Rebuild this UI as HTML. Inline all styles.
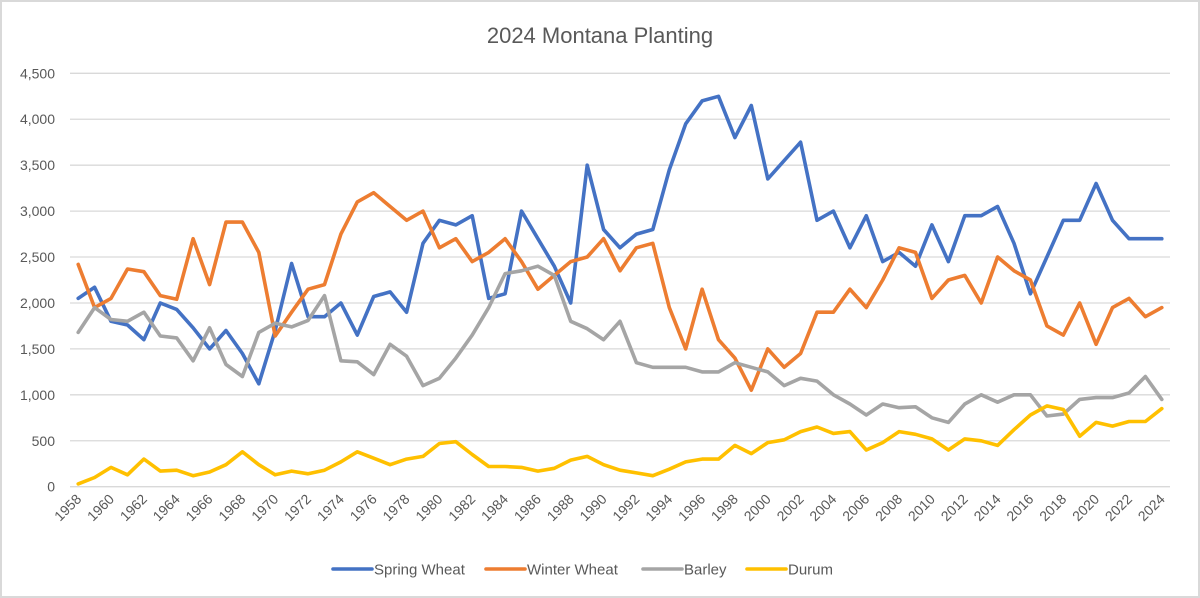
<!DOCTYPE html>
<html><head><meta charset="utf-8"><style>
body{margin:0;background:#fff;}
svg{display:block;font-family:"Liberation Sans",sans-serif;}
</style></head><body>
<svg id="chart" width="1200" height="598">
<rect x="1" y="1" width="1198" height="596" fill="#fff" stroke="#d9d9d9" stroke-width="2"/>
<text x="600" y="43" text-anchor="middle" font-size="22" fill="#595959">2024 Montana Planting</text>
<g id="grid"></g><g id="ylabels"></g><g id="xlabels"></g><g id="series"></g>
<g id="legend"></g>
</svg>
<script>
const years = [];
for (let y = 1958; y <= 2024; y++) years.push(y);
const yTicks = [0,500,1000,1500,2000,2500,3000,3500,4000,4500];
const springWheat = [2050,2170,1800,1760,1600,2000,1930,1730,1500,1700,1450,1120,1700,2430,1850,1850,2000,1650,2070,2120,1900,2650,2900,2850,2950,2050,2100,3000,2700,2400,2000,3500,2800,2600,2750,2800,3450,3950,4200,4250,3800,4150,3350,3550,3750,2900,3000,2600,2950,2450,2550,2400,2850,2450,2950,2950,3050,2650,2100,2500,2900,2900,3300,2900,2700,2700,2700];
const winterWheat = [2420,1950,2050,2370,2340,2080,2040,2700,2200,2880,2880,2550,1640,1900,2150,2200,2750,3100,3200,3050,2900,3000,2600,2700,2450,2550,2700,2450,2150,2300,2450,2500,2700,2350,2600,2650,1950,1500,2150,1600,1400,1050,1500,1300,1450,1900,1900,2150,1950,2250,2600,2550,2050,2250,2300,2000,2500,2350,2250,1750,1650,2000,1550,1950,2050,1850,1950];
const barley = [1680,1950,1820,1800,1900,1640,1620,1370,1730,1330,1200,1680,1780,1740,1810,2080,1370,1360,1220,1550,1420,1100,1180,1400,1650,1950,2320,2350,2400,2300,1800,1720,1600,1800,1350,1300,1300,1300,1250,1250,1350,1300,1250,1100,1180,1150,1000,900,780,900,860,870,750,700,900,1000,920,1000,1000,770,790,950,970,970,1020,1200,950];
const durum = [30,100,210,130,300,170,180,120,160,240,380,240,130,170,140,180,270,380,310,240,300,330,470,490,350,220,220,210,170,200,290,330,240,180,150,120,190,270,300,300,450,360,480,510,600,650,580,600,400,480,600,570,520,400,520,500,450,620,780,880,840,550,700,660,710,710,850];
const seriesNames = ["Spring Wheat","Winter Wheat","Barley","Durum"];
const seriesData = [springWheat, winterWheat, barley, durum];
const colors = ["#4472c4","#ed7d31","#a5a5a5","#ffc000"];

const NS = "http://www.w3.org/2000/svg";
const L = 70, R = 1170, T = 73.3, B = 486.7, YMAX = 4500;
const step = (R - L) / years.length;
const xs = i => L + step * (i + 0.5);
const ys = v => B - (v / YMAX) * (B - T);
function mk(tag, attrs, parent) {
  const e = document.createElementNS(NS, tag);
  for (const k in attrs) e.setAttribute(k, attrs[k]);
  parent.appendChild(e); return e;
}
const grid = document.getElementById('grid'), yl = document.getElementById('ylabels');
yTicks.forEach(t => {
  const ln = mk('line', {x1:L, x2:R, y1:ys(t), y2:ys(t), stroke:'#d9d9d9', 'stroke-width':1.3}, grid);
  
  
  const tx = mk('text', {x:55, y:ys(t)+5, 'text-anchor':'end', 'font-size':14, fill:'#595959'}, yl);
  tx.textContent = t.toLocaleString('en-US');
  
  
});
const xl = document.getElementById('xlabels');
years.forEach((y, i) => {
  if (y % 2) return;
  const x = xs(i) + 4, yy = 500;
  const tx = mk('text', {x:x, y:yy, 'text-anchor':'end', 'font-size':14, fill:'#595959', transform:`rotate(-45 ${x} ${yy})`}, xl);
  tx.textContent = y;
  
  
});
const sg = document.getElementById('series');
seriesData.forEach((arr, s) => {
  const pts = arr.map((v, i) => xs(i).toFixed(1) + ',' + ys(v).toFixed(1)).join(' ');
  const pl = mk('polyline', {points:pts, fill:'none', stroke:colors[s], 'stroke-width':3.6, 'stroke-linejoin':'round', 'stroke-linecap':'round'}, sg);
  
  
});
const lg = document.getElementById('legend');
const lx = [333, 486, 643, 747];
seriesNames.forEach((n, s) => {
  const ln = mk('line', {x1:lx[s], x2:lx[s]+39, y1:569, y2:569, stroke:colors[s], 'stroke-width':3.6, 'stroke-linecap':'round'}, lg);
  
  
  const tx = mk('text', {x:lx[s]+41, y:574.5, 'font-size':15, fill:'#595959'}, lg);
  tx.textContent = n;
  
  
});
</script>
</body></html>
